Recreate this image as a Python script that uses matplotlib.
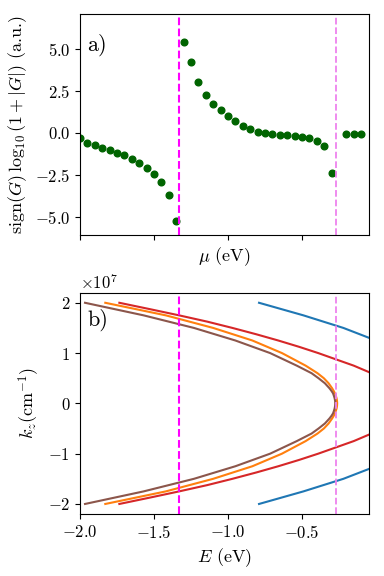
import numpy as np
import matplotlib
matplotlib.use("Agg")
import matplotlib.pyplot as plt

plt.rcParams['font.family'] = 'serif'
plt.rcParams['font.serif'] = ['cmr10']
plt.rcParams['mathtext.fontset'] = 'cm'
plt.rcParams['axes.formatter.use_mathtext'] = True
plt.rcParams['font.size'] = 12
plt.rcParams['axes.labelsize'] = 13

# panel a): chemical potential scan
mu = np.array([
    -2.00, -1.95, -1.90, -1.85, -1.80, -1.75, -1.70, -1.65, -1.60, -1.55,
    -1.50, -1.45, -1.40, -1.35, -1.30, -1.25, -1.20, -1.15, -1.10, -1.05,
    -1.00, -0.95, -0.90, -0.85, -0.80, -0.75, -0.70, -0.65, -0.60, -0.55,
    -0.50, -0.45, -0.40, -0.35, -0.30, -0.20, -0.15, -0.10
])
G_log = np.array([
    -0.32, -0.58, -0.74, -0.90, -1.04, -1.20, -1.35, -1.55, -1.79, -2.07,
    -2.45, -2.95, -3.73, -5.26, 5.40, 4.24, 3.01, 2.29, 1.75, 1.35,
    1.00, 0.68, 0.44, 0.24, 0.08, 0.00, -0.08, -0.12, -0.14, -0.18,
    -0.22, -0.30, -0.46, -0.80, -2.41, -0.06, -0.06, -0.04
])

# band edges marked by the dashed lines
E_cross1 = -1.328
E_cross2 = -0.27

# panel b): bands, E read at kz >= 0 (in 1e7 cm^-1), mirrored for kz < 0
kz_fine = [0.0, 0.05, 0.1, 0.15, 0.2, 0.25, 0.3, 0.4, 0.5, 0.6, 0.75, 1.0, 1.25, 1.5, 1.75, 2.0]
E_brown = [-0.275, -0.276, -0.279, -0.284, -0.290, -0.301, -0.314, -0.345, -0.388, -0.435,
           -0.535, -0.715, -0.950, -1.230, -1.570, -1.966]
E_orange = [-0.262, -0.263, -0.266, -0.271, -0.277, -0.286, -0.296, -0.320, -0.352, -0.395,
            -0.475, -0.635, -0.835, -1.100, -1.420, -1.829]

kz_red = [0.5, 0.625, 0.75, 0.875, 1.0, 1.125, 1.25, 1.375, 1.5, 1.625, 1.75, 1.875, 2.0]
E_red = [0.04, -0.05, -0.15, -0.27, -0.39, -0.52, -0.66, -0.81, -0.97, -1.14, -1.33, -1.53, -1.734]

kz_blue = [1.25, 1.5, 1.75, 2.0]
E_blue = [0.0, -0.22, -0.49, -0.79]


def both_branches(kz, E):
    kz = np.array(kz) * 1e7
    E = np.array(E)
    k_full = np.concatenate([-kz[::-1], kz])
    E_full = np.concatenate([E[::-1], E])
    return E_full, k_full


fig = plt.figure(figsize=(3.84, 5.76), dpi=100)
ax1 = fig.add_axes([0.2083, 0.592, 0.7526, 0.3837])
ax2 = fig.add_axes([0.2083, 0.1076, 0.7526, 0.3842], sharex=ax1)

ax1.plot(mu, G_log, 'o', color='darkgreen', ms=4.8)
ax1.axvline(E_cross1, color='magenta', ls='--', lw=1.5)
ax1.axvline(E_cross2, color='violet', ls='--', lw=1.3)
ax1.set_ylim(-6.1, 7.1)
ax1.set_yticks([-5.0, -2.5, 0.0, 2.5, 5.0])
ax1.tick_params(labelbottom=False)
ax1.set_xlabel(r'$\mu$ (eV)')
ax1.set_ylabel(r'$\mathrm{sign}(G)\,\log_{10}(1+|G|)$ (a.u.)')
ax1.text(0.025, 0.91, 'a)', transform=ax1.transAxes, fontsize=16, va='top', ha='left')

for kz, E, c in [(kz_blue, E_blue, 'tab:blue'),
                 (kz_fine, E_orange, 'tab:orange'),
                 (kz_red, E_red, 'tab:red'),
                 (kz_fine, E_brown, 'tab:brown')]:
    Ef, kf = both_branches(kz, E)
    ax2.plot(Ef, kf, color=c, lw=1.5)

ax2.axvline(E_cross1, color='magenta', ls='--', lw=1.5)
ax2.axvline(E_cross2, color='violet', ls='--', lw=1.3)
ax2.set_xlim(-2.0, -0.047)
ax2.set_ylim(-2.2e7, 2.2e7)
ax2.set_xticks([-2.0, -1.5, -1.0, -0.5])
ax2.set_yticks([-2e7, -1e7, 0, 1e7, 2e7])
ax2.set_xlabel(r'$E$ (eV)')
ax2.set_ylabel(r'$k_z(\mathrm{cm}^{-1})$')
ax2.text(0.025, 0.93, 'b)', transform=ax2.transAxes, fontsize=16, va='top', ha='left')

fig.savefig('out.png', dpi=100)
